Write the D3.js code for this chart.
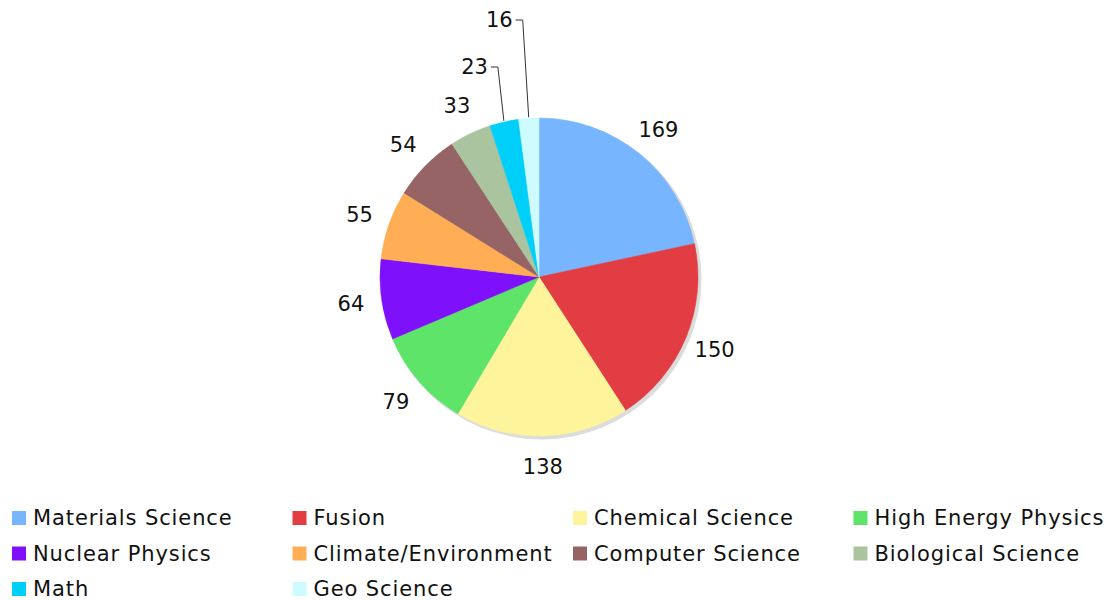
<!DOCTYPE html>
<html>
<head>
<meta charset="utf-8">
<script src="https://cdn.jsdelivr.net/npm/d3@7"></script>
<style>
  body { margin: 0; background: #fff; }
  text { font-family: "DejaVu Sans", Verdana, sans-serif; fill: #111; }
</style>
</head>
<body>
<div id="graph"></div>
<script>
const w = 1113;
const h = 600;
const cx = 539, cy = 277, radius = 159;

// data
const categories = ["Materials Science", "Fusion", "Chemical Science", "High Energy Physics",
                    "Nuclear Physics", "Climate/Environment", "Computer Science",
                    "Biological Science", "Math", "Geo Science"];
const values = [169, 150, 138, 79, 64, 55, 54, 33, 23, 16];
const colors = ["#77b5fe", "#e23d42", "#fdf49b", "#5fe46a", "#7f10fb", "#ffae55",
                "#976465", "#a9c49f", "#00d0f9", "#cdfbfe"];

const svg = d3.select('#graph')
              .append('svg')
              .attr('width', w)
              .attr('height', h);

const data = categories.map((c, i) => ({ name: c, value: values[i], color: colors[i] }));

const pie = d3.pie().sort(null).value(d => d.value);
const arcs = pie(data);
const arc = d3.arc().innerRadius(0).outerRadius(radius);
const labelArc = d3.arc().innerRadius(190).outerRadius(190);

const g = svg.append('g').attr('transform', 'translate(' + cx + ',' + cy + ')');

// soft shadow at bottom right
g.append('circle')
  .attr('cx', 2.5).attr('cy', 2.5).attr('r', radius + 1)
  .style('fill', '#dcdcdc');

g.selectAll('path.slice')
  .data(arcs)
  .enter()
  .append('path')
  .attr('class', 'slice')
  .attr('d', arc)
  .style('fill', d => d.data.color)
  .style('stroke', d => d.data.color)
  .style('stroke-width', 0.5);

// labels: small slices at the top get a leader line, stacked upward
const smallLimit = 30;
let leaderCount = 0;
arcs.forEach(d => {
  const mid = (d.startAngle + d.endAngle) / 2;
  if (d.data.value < smallLimit) {
    const order = leaderCount++;
    const ax = (radius + 1) * Math.sin(mid);
    const ay = -(radius + 1) * Math.cos(mid);
    const ly = -radius - 51 - order * 47;
    const lx = ax - 6;
    g.append('path')
      .attr('d', 'M' + ax + ',' + ay + 'L' + lx + ',' + ly + 'L' + (lx - 7) + ',' + ly)
      .style('fill', 'none')
      .style('stroke', '#333')
      .style('stroke-width', 1);
    g.append('text')
      .attr('x', lx - 10)
      .attr('y', ly)
      .attr('dy', '0.35em')
      .attr('text-anchor', 'end')
      .style('font-size', '21px')
      .text(d.data.value);
  } else {
    const c = labelArc.centroid(d);
    g.append('text')
      .attr('x', c[0])
      .attr('y', c[1])
      .attr('dy', '0.35em')
      .attr('text-anchor', 'middle')
      .style('font-size', '21px')
      .text(d.data.value);
  }
});

// legend
const colW = 280.5, rowH = 35.5;
const legend = svg.append('g')
  .attr('transform', 'translate(12,511)')
  .selectAll('.legend')
  .data(data)
  .enter()
  .append('g')
  .attr('class', 'legend')
  .attr('transform', (d, i) => 'translate(' + (i % 4) * colW + ',' + Math.floor(i / 4) * rowH + ')');

legend.append('rect')
  .attr('width', 14)
  .attr('height', 14)
  .style('fill', d => d.color);

legend.append('text')
  .attr('x', 21)
  .attr('y', 7)
  .attr('dy', '0.35em')
  .style('font-size', '21px')
  .style('letter-spacing', '0.9px')
  .text(d => d.name);
</script>
</body>
</html>
